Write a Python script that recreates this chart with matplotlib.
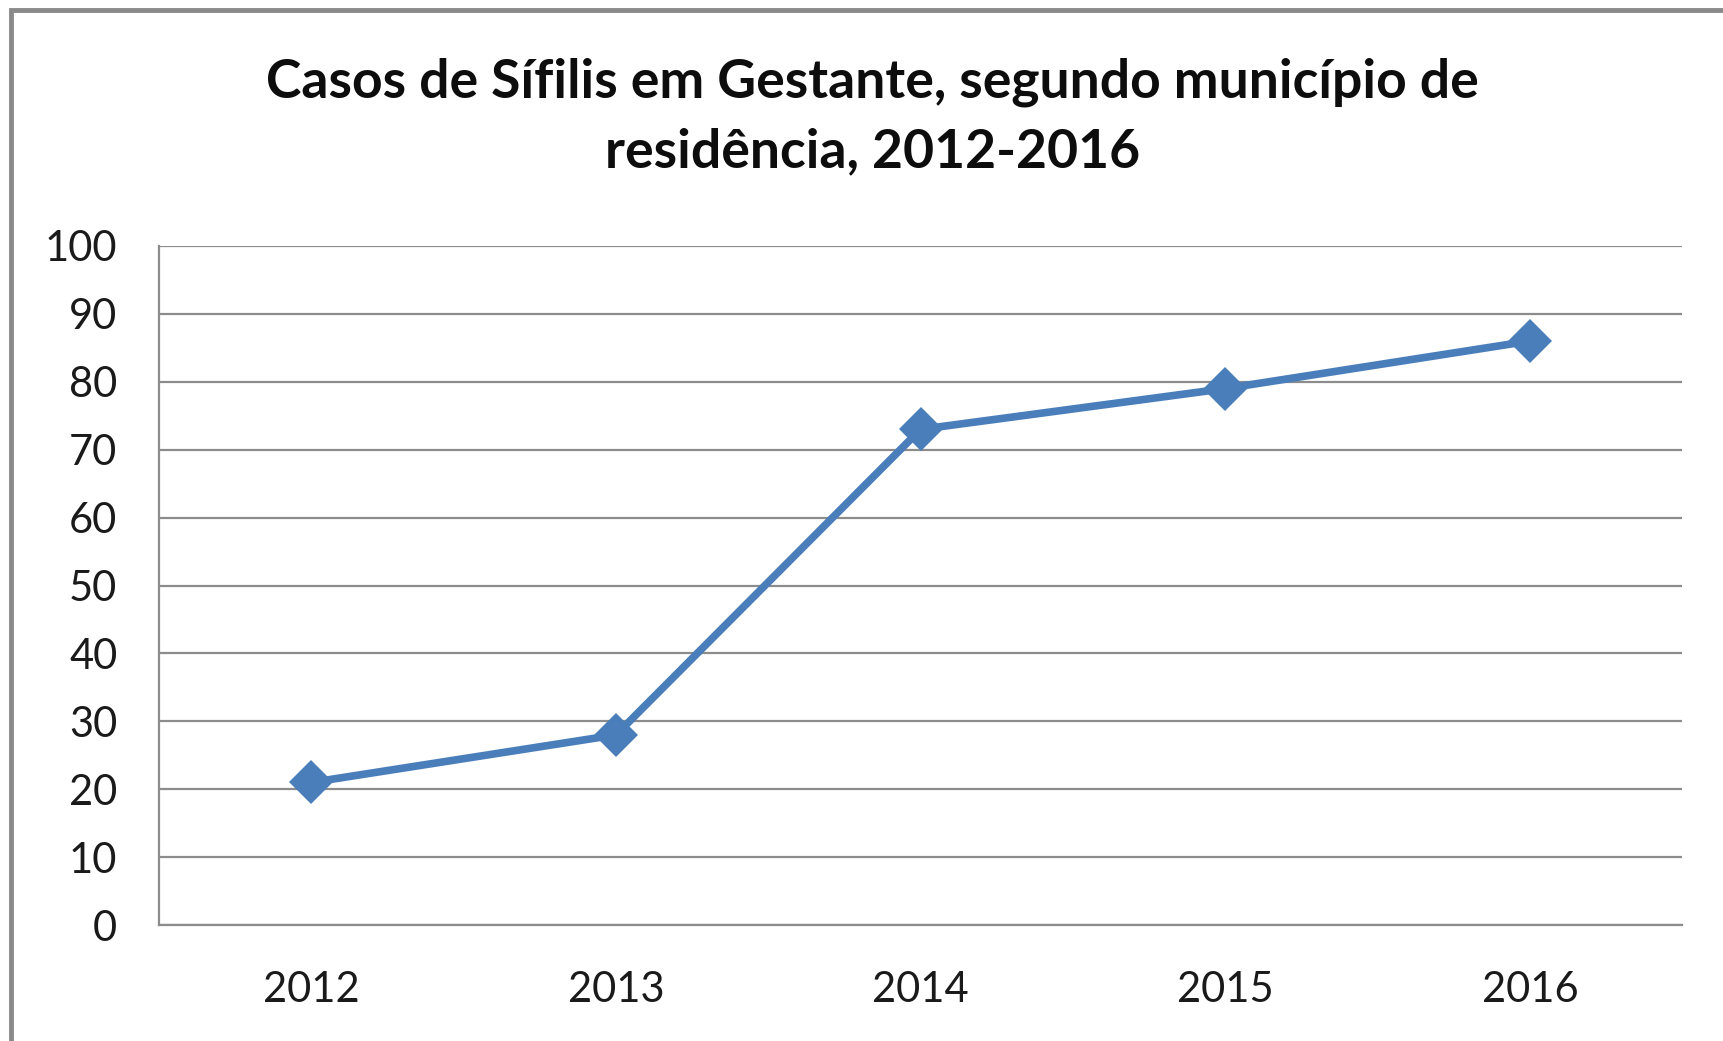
import matplotlib.pyplot as plt
from matplotlib.patches import Rectangle

years = ['2012', '2013', '2014', '2015', '2016']
cases = [21, 28, 73, 79, 86]
yticks = [0, 10, 20, 30, 40, 50, 60, 70, 80, 90, 100]

plt.rcParams['font.family'] = ['Lato', 'DejaVu Sans']

fig = plt.figure(figsize=(17.23, 10.41), dpi=100)
ax = fig.add_axes([0.0923, 0.1114, 0.884, 0.6523])

# outer chart frame (runs past the right and bottom edge of the picture)
fig.patches.append(Rectangle((11 / 1723, -0.05), 1.2, 1 - 10 / 1041 + 0.05,
                             transform=fig.transFigure, fill=False,
                             edgecolor='#8a8a8a', linewidth=3.5))

x = list(range(len(years)))
ax.plot(x, cases, color='#4a7ebb', linewidth=5.5, marker='D',
        markersize=22, markeredgewidth=0, zorder=3)

ax.set_xlim(-0.5, len(years) - 0.5)
ax.set_ylim(0, 100)
ax.set_yticks(yticks)
ax.set_xticks(x)
ax.set_xticklabels(years)
ax.yaxis.grid(True, color='#8c8c8c', linewidth=1.6)
ax.set_axisbelow(True)
for s in ['top', 'right']:
    ax.spines[s].set_visible(False)
for s in ['left', 'bottom']:
    ax.spines[s].set_color('#8c8c8c')
    ax.spines[s].set_linewidth(1.6)
ax.tick_params(axis='y', length=0, pad=30, labelsize=30, labelcolor='#1a1a1a')
ax.tick_params(axis='x', length=0, pad=33, labelsize=30, labelcolor='#1a1a1a')

fig.text(0.5065, 0.888, 'Casos de Sífilis em Gestante, segundo município de\nresidência, 2012-2016',
         ha='center', va='center', fontsize=38.5, fontweight='bold',
         linespacing=1.5, color='#0d0d0d')

plt.savefig('out.png')
